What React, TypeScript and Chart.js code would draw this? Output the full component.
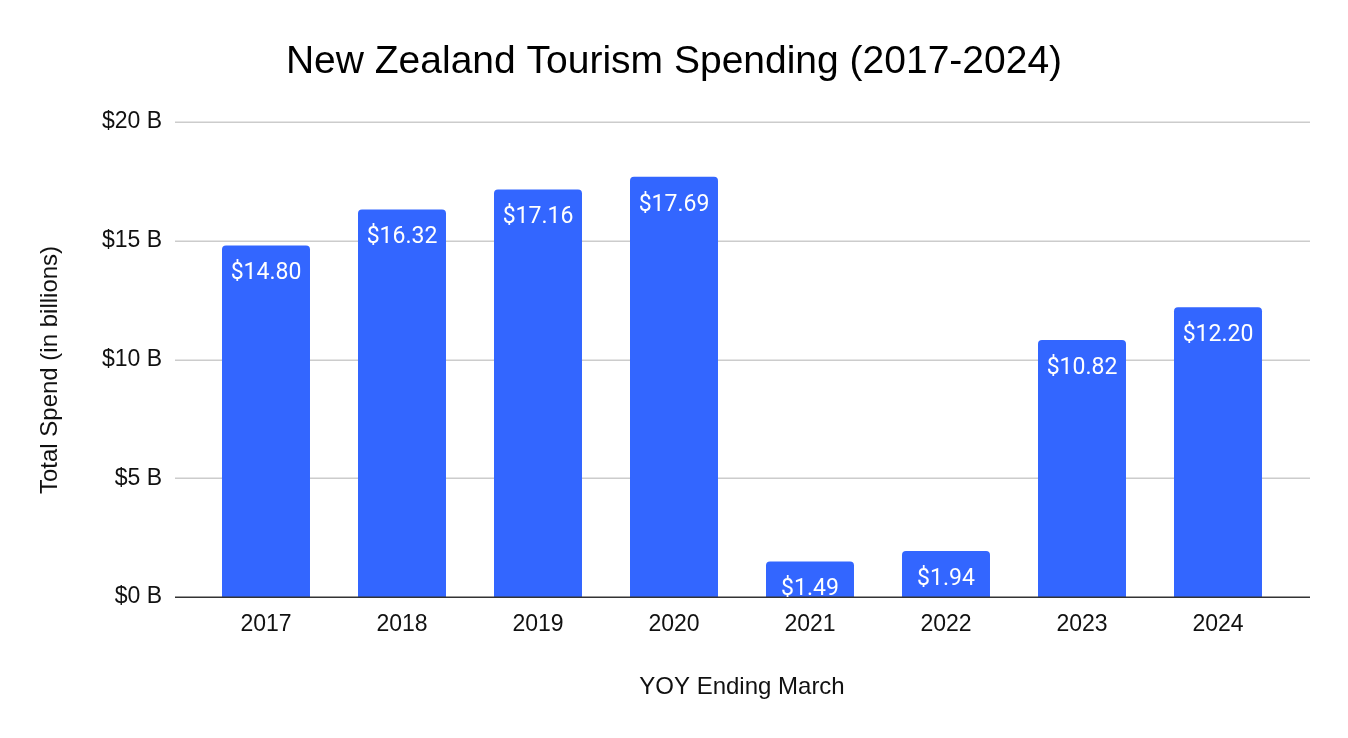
import { useEffect, useRef } from "react";
import { Chart, registerables } from "chart.js";

Chart.register(...registerables);

const years = ["2017", "2018", "2019", "2020", "2021", "2022", "2023", "2024"];
const spend = [14.8, 16.32, 17.16, 17.69, 1.49, 1.94, 10.82, 12.2];
const yTicks = [0, 5, 10, 15, 20];

const TITLE = "New Zealand Tourism Spending (2017-2024)";
const Y_TITLE = "Total Spend (in billions)";
const X_TITLE = "YOY Ending March";

const SANS = "'Liberation Sans', Arial, sans-serif";
const GRID_LEFT = 175;
const GRID_RIGHT = 1310;

// y grid lines run wider than the bar area, so draw them by hand
const gridPlugin = {
    id: "wideGrid",
    beforeDatasetsDraw(chart: any) {
        const { ctx, scales } = chart;
        const y = scales.y;
        ctx.save();
        ctx.strokeStyle = "#cccccc";
        ctx.lineWidth = 1.5;
        yTicks.forEach((t) => {
            if (t === 0) return;
            const py = Math.round(y.getPixelForValue(t)) + 0.25;
            ctx.beginPath();
            ctx.moveTo(GRID_LEFT, py);
            ctx.lineTo(GRID_RIGHT, py);
            ctx.stroke();
        });
        ctx.restore();
    },
    afterDatasetsDraw(chart: any) {
        const { ctx, scales } = chart;
        const py = Math.round(scales.y.getPixelForValue(0)) + 0.25;
        ctx.save();
        ctx.strokeStyle = "#333333";
        ctx.lineWidth = 1.5;
        ctx.beginPath();
        ctx.moveTo(GRID_LEFT, py);
        ctx.lineTo(GRID_RIGHT, py);
        ctx.stroke();

        // value labels inside the top of each bar
        ctx.fillStyle = "#ffffff";
        ctx.font = "23px Roboto";
        ctx.textAlign = "center";
        ctx.textBaseline = "middle";
        const meta = chart.getDatasetMeta(0);
        meta.data.forEach((bar: any, i: number) => {
            ctx.fillText("$" + spend[i].toFixed(2), bar.x, bar.y + 28);
        });
        ctx.restore();
    },
    afterDraw(chart: any) {
        const { ctx } = chart;
        ctx.save();
        ctx.fillStyle = "#000000";
        ctx.textAlign = "center";
        ctx.textBaseline = "alphabetic";
        ctx.font = "39px " + SANS;
        ctx.fillText(TITLE, chart.width / 2, 73);

        ctx.fillStyle = "#111111";
        ctx.font = "24px " + SANS;
        ctx.textBaseline = "middle";
        ctx.fillText(X_TITLE, 742, 687);

        ctx.translate(50, 370);
        ctx.rotate(-Math.PI / 2);
        ctx.fillText(Y_TITLE, 0, 0);
        ctx.restore();
    },
};

const App = () => {
    const chartRef = useRef<HTMLCanvasElement>(null);
    const chartInstance = useRef<Chart | null>(null);

    useEffect(() => {
        if (!chartRef.current) return;
        if (chartInstance.current) chartInstance.current.destroy();
        const ctx = chartRef.current.getContext("2d");
        if (!ctx) return;

        chartInstance.current = new Chart(ctx, {
            type: "bar",
            data: {
                labels: years,
                datasets: [
                    {
                        label: "Total Spend",
                        data: spend,
                        backgroundColor: "#3366ff",
                        borderRadius: { topLeft: 4, topRight: 4, bottomLeft: 0, bottomRight: 0 },
                        borderSkipped: false,
                        barPercentage: 0.647,
                        categoryPercentage: 1,
                    },
                ],
            },
            options: {
                animation: false,
                responsive: true,
                maintainAspectRatio: false,
                layout: { padding: { left: 0, right: 62, top: 122, bottom: 0 } },
                plugins: {
                    legend: { display: false },
                    tooltip: { enabled: false },
                    title: { display: false },
                },
                scales: {
                    x: {
                        grid: { display: false, drawTicks: false },
                        border: { display: false },
                        ticks: {
                            color: "#111111",
                            padding: 14,
                            font: { family: SANS, size: 23 },
                        },
                        afterFit: (scale: any) => {
                            scale.height = 141;
                        },
                    },
                    y: {
                        min: 0,
                        max: 20,
                        grid: { display: false, drawTicks: false },
                        border: { display: false },
                        afterBuildTicks: (scale: any) => {
                            scale.ticks = yTicks.map((v) => ({ value: v }));
                        },
                        ticks: {
                            color: "#111111",
                            padding: 36,
                            font: { family: SANS, size: 23 },
                            callback: (v: any) => "$" + v + " B",
                        },
                        afterFit: (scale: any) => {
                            scale.width = 198;
                        },
                    },
                },
            },
            plugins: [gridPlugin],
        });

        return () => {
            if (chartInstance.current) {
                chartInstance.current.destroy();
                chartInstance.current = null;
            }
        };
    }, []);

    return (
        <div style={{ position: "absolute", left: 0, top: 0, width: 1348, height: 738, background: "#ffffff" }}>
            <canvas ref={chartRef}></canvas>
        </div>
    );
};

export default App;
